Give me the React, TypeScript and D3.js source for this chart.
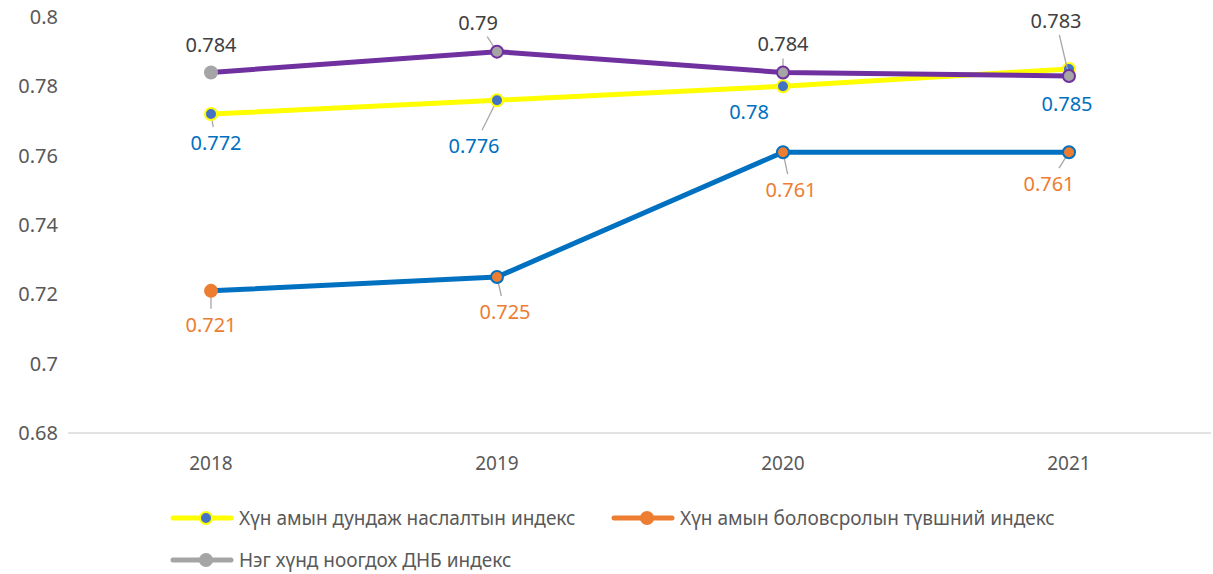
import React from "react";
import * as d3 from "d3";

// data
const years = ["2018", "2019", "2020", "2021"];
const lifeIndex = [0.772, 0.776, 0.78, 0.785];
const eduIndex = [0.721, 0.725, 0.761, 0.761];
const gdpIndex = [0.784, 0.79, 0.784, 0.783];
const yTicks = [0.68, 0.7, 0.72, 0.74, 0.76, 0.78, 0.8];
const seriesNames = [
  "Хүн амын дундаж наслалтын индекс",
  "Хүн амын боловсролын түвшний индекс",
  "Нэг хүнд ноогдох ДНБ индекс",
];

// label placement (offsets from the point), leader = draw a leader line
const lifeLabelPos = [
  { dx: 5, dy: 29, leader: true },
  { dx: -23, dy: 46, leader: true },
  { dx: -34, dy: 26, leader: false },
  { dx: -2, dy: 35, leader: false },
];
const eduLabelPos = [
  { dx: 0, dy: 34, leader: true },
  { dx: 8, dy: 35, leader: true },
  { dx: 8, dy: 38, leader: true },
  { dx: -20, dy: 32, leader: true },
];
const gdpLabelPos = [
  { dx: 0, dy: -27, leader: false },
  { dx: -19, dy: -29, leader: true },
  { dx: 0, dy: -28, leader: true },
  { dx: -13, dy: -55, leader: true },
];

const W = 1213;
const H = 574;
const FONT = "'Noto Sans', 'Open Sans', sans-serif";

const x = d3.scalePoint<string>().domain(years).range([211, 1069]);
const y = d3.scaleLinear().domain([0.68, 0.8]).range([433, 17]);

type Pos = { dx: number; dy: number; leader: boolean };

function Series(props: {
  values: number[];
  lineColor: string;
  fill: string;
  stroke: string;
  labelColor: string;
  labels: Pos[];
  firstPlain?: boolean;
}) {
  const { values, lineColor, fill, stroke, labelColor, labels, firstPlain } = props;
  const line = d3
    .line<number>()
    .x((_, i) => x(years[i]) as number)
    .y((d) => y(d));
  return (
    <g>
      <path d={line(values) || ""} fill="none" stroke={lineColor} strokeWidth={5} strokeLinejoin="round" />
      {values.map((v, i) => {
        const cx = x(years[i]) as number;
        const cy = y(v);
        const p = labels[i];
        const ty = cy + p.dy;
        // leader from marker towards the label
        const ang = Math.atan2(p.dy, p.dx);
        const lx1 = cx + Math.cos(ang) * 2;
        const ly1 = cy + Math.sin(ang) * 2;
        const ly2 = ty + (p.dy > 0 ? -16 : 14);
        const lx2 = cx + (ly2 - cy) * (p.dx / p.dy);
        return p.leader ? (
          <line key={i} x1={lx1} y1={ly1} x2={lx2} y2={ly2} stroke="#a6a6a6" strokeWidth={1.3} />
        ) : null;
      })}
      {values.map((v, i) => {
        const cx = x(years[i]) as number;
        const cy = y(v);
        const plain = firstPlain && i === 0;
        return (
          <circle key={"m" + i} cx={cx} cy={cy} r={plain ? 7 : 6}
            fill={fill} stroke={plain ? "none" : stroke} strokeWidth={2} />
        );
      })}
      {values.map((v, i) => {
        const cx = x(years[i]) as number;
        const cy = y(v);
        const p = labels[i];
        return (
          <text key={"t" + i} x={cx + p.dx} y={cy + p.dy} dy="0.35em" textAnchor="middle"
            fontSize={20} fill={labelColor}>
            {String(v)}
          </text>
        );
      })}
    </g>
  );
}

function LegendItem(props: { x: number; y: number; color: string; fill: string; stroke: string; text: string }) {
  const { x: lx, y: ly, color, fill, stroke, text } = props;
  return (
    <g transform={`translate(${lx},${ly})`}>
      <line x1={0} x2={58} y1={0} y2={0} stroke={color} strokeWidth={5} strokeLinecap="round" />
      <circle cx={33} cy={0} r={6} fill={fill} stroke={stroke} strokeWidth={2} />
      <text x={66} y={0} dy="0.35em" fontSize={19} fill="#595959">{text}</text>
    </g>
  );
}

export default function App() {
  return (
    <svg width={W} height={H} style={{ position: "absolute", left: 0, top: 0, fontFamily: FONT }}>
      <rect width={W} height={H} fill="#fff" />
      <line x1={68} x2={1211} y1={y(0.68)} y2={y(0.68)} stroke="#d9d9d9" strokeWidth={1.5} />
      {yTicks.map((t) => (
        <text key={t} x={58} y={y(t)} dy="0.35em" textAnchor="end" fontSize={20} fill="#595959">
          {String(t)}
        </text>
      ))}
      {years.map((yr) => (
        <text key={yr} x={x(yr)} y={463} dy="0.35em" textAnchor="middle" fontSize={19} fill="#595959">
          {yr}
        </text>
      ))}
      <Series values={lifeIndex} lineColor="#ffff00" fill="#4472c4" stroke="#ffff00"
        labelColor="#0070c0" labels={lifeLabelPos} />
      <Series values={eduIndex} lineColor="#0070c0" fill="#ed7d31" stroke="#0070c0"
        labelColor="#ed7d31" labels={eduLabelPos} firstPlain />
      <Series values={gdpIndex} lineColor="#7030a0" fill="#a5a5a5" stroke="#7030a0"
        labelColor="#404040" labels={gdpLabelPos} firstPlain />
      <LegendItem x={173} y={518} color="#ffff00" fill="#4472c4" stroke="#ffff00" text={seriesNames[0]} />
      <LegendItem x={614} y={518} color="#ed7d31" fill="#ed7d31" stroke="#ed7d31" text={seriesNames[1]} />
      <LegendItem x={173} y={560} color="#a5a5a5" fill="#a5a5a5" stroke="#a5a5a5" text={seriesNames[2]} />
    </svg>
  );
}
